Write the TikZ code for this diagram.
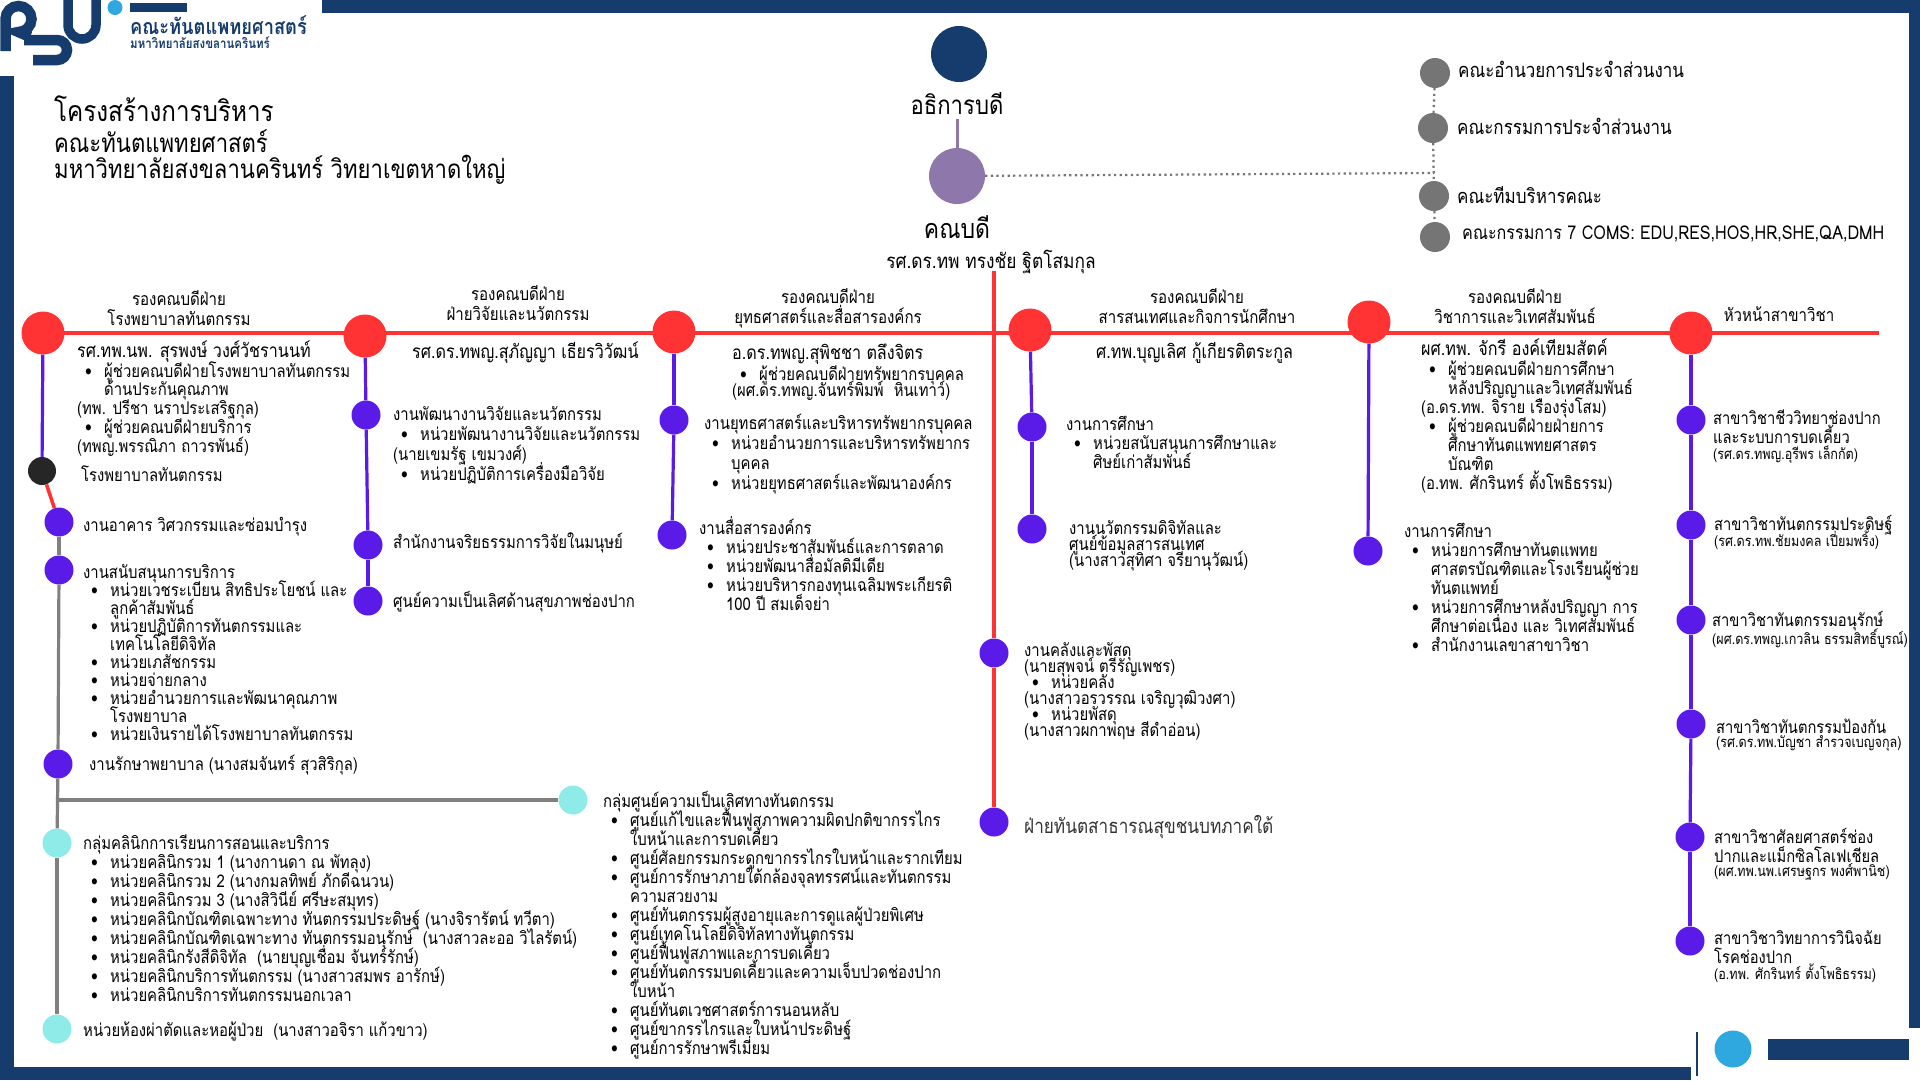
\documentclass[tikz,border=0pt]{standalone}
\usepackage{fontspec}
\setmainfont[Script=Thai,FakeStretch=0.85]{Loma}
\definecolor{psublue}{HTML}{163C6E}
\definecolor{psusky}{HTML}{2FA8E0}
\definecolor{viceRed}{HTML}{FF3333}
\definecolor{unitPurple}{HTML}{5A1AE8}
\definecolor{deanPurple}{HTML}{8E77AA}
\definecolor{boardGray}{HTML}{757575}
\definecolor{clinicCyan}{HTML}{8EEBE8}
\newcommand{\bu}{\makebox[27pt][l]{\hspace{8pt}\textbullet}}
\newcommand{\hi}{\makebox[27pt]{}}
\tikzset{
  bead/.style={circle, inner sep=0pt, minimum size=#1},
  vice/.style={bead=43pt, fill=viceRed},
  unit/.style={bead=29pt, fill=unitPurple},
  board/.style={bead=30pt, fill=boardGray},
  clinic/.style={bead=29pt, fill=clinicCyan},
  txt/.style 2 args={anchor=north west, align=left, inner sep=0pt, yshift={(0.7*#2-0.25*#1)*1pt},
    font=\fontsize{#1}{#2}\selectfont\lineskiplimit-60pt\relax, execute at begin node=\strut},
  head/.style 2 args={txt={#1}{#2}, anchor=north, align=center},
  redline/.style={draw=viceRed, line width=3.5pt},
  purpleline/.style={draw=unitPurple, line width=3.2pt},
  grayline/.style={draw=gray, line width=3.2pt},
  dotline/.style={draw=boardGray, line width=2.2pt, dash pattern=on 2.2pt off 3.4pt}
}
\begin{document}
\begin{tikzpicture}[x=1pt,y=-1pt]
  \useasboundingbox (0,0) rectangle (1920,1080);
  % frame
  \fill[psublue] (322,0) rectangle (1920,13);
  \fill[psublue] (1909,0) rectangle (1920,1028);
  \fill[psublue] (0,76) rectangle (14,1080);
  \fill[psublue] (0,1067) rectangle (1691,1080);
  \fill[psublue] (1768,1039) rectangle (1909,1060);
  \fill[psusky] (1733,1049) circle (18.5);
  \draw[psublue, line width=1.4pt] (1697,1032) -- (1697,1076);
  % logo
  \draw[psublue, line width=10.5pt] (5.5,51) -- (5.5,19) arc (180:450:13) -- (30,37);
  \draw[psublue, line width=10.5pt] (24,40) -- (57,40) arc (-90:90:10) -- (33,60);
  \draw[psublue, line width=9.5pt] (68,0) -- (68,25) arc (180:0:14) -- (96,0);
  \fill[psusky] (115,7.5) circle (7.5);
  \fill[psublue] (130,3) rectangle (187,12);
  \node[txt={21.5}{24}, text=psublue] (logoa) at (130,27) {\bfseries คณะทันตแพทยศาสตร์};
  \node[txt={13.5}{16}, text=psublue] (logob) at (130,44) {\bfseries มหาวิทยาลัยสงขลานครินทร์};
  % title
  \node[txt={28.5}{30}] (titlea) at (54,110) {โครงสร้างการบริหาร};
  \node[txt={26}{26}] (titleb) at (54,141) {คณะทันตแพทยศาสตร์\\มหาวิทยาลัยสงขลานครินทร์ วิทยาเขตหาดใหญ่};
  % top of the chart
  \node[bead=56pt, fill=psublue] (pres) at (959,54) {};
  \node[bead=56pt, fill=deanPurple] (dean) at (957,176) {};
  \node[head={26}{28}] (preslbl) at (957,105) {อธิการบดี};
  \node[head={27}{28}] (deanlbl) at (957,228) {คณบดี};
  \node[head={20.4}{22}] (deanname) at (991,260) {รศ.ดร.ทพ ทรงชัย ฐิตโสมกุล};
  \coordinate (presl) at (957,119);
  \draw[deanPurple, line width=3pt] (presl) -- (dean);
  \node[board] (boa) at (1435,73) {};
  \node[board] (bob) at (1433,128) {};
  \node[board] (boc) at (1434,196) {};
  \node[board] (bod) at (1435,237) {};
  \coordinate (bojoin) at (1434,173);
  \draw[dotline] (dean) -- (bojoin);
  \draw[dotline] (boa) -- (bob);
  \draw[dotline] (bob) -- (boc);
  \draw[dotline] (boc) -- (bod);
  \node[txt={20}{22}] (boalbl) at (1458,71) {คณะอำนวยการประจำส่วนงาน};
  \node[txt={20}{22}] (boblbl) at (1457,128) {คณะกรรมการประจำส่วนงาน};
  \node[txt={20}{22}] (boclbl) at (1457,197) {คณะทีมบริหารคณะ};
  \node[txt={19}{22}] (bodlbl) at (1462,235) {คณะกรรมการ 7 COMS: EDU,RES,HOS,HR,SHE,QA,DMH};
  % red line and the vice deans
  \coordinate (hla) at (64,333);
  \coordinate (hlb) at (1879,333);
  \coordinate (vla) at (994,271);
  \draw[redline] (hla) -- (hlb);
  \node[vice] (rd1) at (43,333) {};
  \node[vice] (rd2) at (365,336) {};
  \node[vice] (rd3) at (674,332) {};
  \node[vice] (rd4) at (1030,330) {};
  \node[vice] (rd5) at (1369,322) {};
  \node[vice] (rd6) at (1691,333) {};
  \node[head={17.7}{20}] (hd1) at (179,300) {รองคณบดีฝ่าย\\โรงพยาบาลทันตกรรม};
  \node[head={17.7}{20}] (hd2) at (518,295) {รองคณบดีฝ่าย\\ฝ่ายวิจัยและนวัตกรรม};
  \node[head={17.7}{20}] (hd3) at (828,298) {รองคณบดีฝ่าย\\ยุทธศาสตร์และสื่อสารองค์กร};
  \node[head={17.7}{20}] (hd4) at (1197,298) {รองคณบดีฝ่าย\\สารสนเทศและกิจการนักศึกษา};
  \node[head={17.7}{20}] (hd5) at (1515,298) {รองคณบดีฝ่าย\\วิชาการและวิเทศสัมพันธ์};
  \node[head={17.7}{20}] (hd6) at (1779,316) {หัวหน้าสาขาวิชา};
  \node[txt={19}{20}] (nm1) at (77,350) {รศ.ทพ.นพ. สุรพงษ์ วงศ์วัชรานนท์};
  \node[txt={19}{20}] (nm2) at (412,351) {รศ.ดร.ทพญ.สุภัญญา เธียรวิวัฒน์};
  \node[txt={19}{20}] (nm3) at (732,353) {อ.ดร.ทพญ.สุพิชชา ตลึงจิตร};
  \node[txt={19}{20}] (nm4) at (1096,351) {ศ.ทพ.บุญเลิศ กู้เกียรติตระกูล};
  \node[txt={19}{20}] (nm5) at (1421,348) {ผศ.ทพ. จักรี องค์เทียมสัตค์};
  % column 1
  \node[txt={17.5}{18.8}] (c1a) at (77,370) {\bu ผู้ช่วยคณบดีฝ่ายโรงพยาบาลทันตกรรม\\\hi ด้านประกันคุณภาพ\\(ทพ. ปรีชา นราประเสริฐกุล)\\\bu ผู้ช่วยคณบดีฝ่ายบริการ\\(ทพญ.พรรณิภา ถาวรพันธ์)};
  \node[bead=28pt, fill=black!85] (hosp) at (42,471) {};
  \node[txt={17.5}{19}] (hosplbl) at (81,474) {โรงพยาบาลทันตกรรม};
  \node[unit] (u1) at (59,522) {};
  \node[txt={17.5}{19}] (u1lbl) at (83,526) {งานอาคาร วิศวกรรมและซ่อมบำรุง};
  \node[unit] (u2) at (59,570) {};
  \node[txt={17.5}{18}] (u2lbl) at (83,572) {งานสนับสนุนการบริการ\\\bu หน่วยเวชระเบียน สิทธิประโยชน์ และ\\\hi ลูกค้าสัมพันธ์\\\bu หน่วยปฏิบัติการทันตกรรมและ\\\hi เทคโนโลยีดิจิทัล\\\bu หน่วยเภสัชกรรม\\\bu หน่วยจ่ายกลาง\\\bu หน่วยอำนวยการและพัฒนาคุณภาพ\\\hi โรงพยาบาล\\\bu หน่วยเงินรายได้โรงพยาบาลทันตกรรม};
  \node[unit] (u3) at (58,764) {};
  \node[txt={17.5}{19}] (u3lbl) at (89,764) {งานรักษาพยาบาล (นางสมจันทร์ สุวสิริกุล)};
  \node[clinic] (cl1) at (573,800) {};
  \node[txt={17.5}{19}] (cl1lbl) at (603,800) {กลุ่มศูนย์ความเป็นเลิศทางทันตกรรม\\\bu ศูนย์แก้ไขและฟื้นฟูสภาพความผิดปกติขากรรไกร\\\hi ใบหน้าและการบดเคี้ยว\\\bu ศูนย์ศัลยกรรมกระดูกขากรรไกรใบหน้าและรากเทียม\\\bu ศูนย์การรักษาภายใต้กล้องจุลทรรศน์และทันตกรรม\\\hi ความสวยงาม\\\bu ศูนย์ทันตกรรมผู้สูงอายุและการดูแลผู้ป่วยพิเศษ\\\bu ศูนย์เทคโนโลยีดิจิทัลทางทันตกรรม\\\bu ศูนย์ฟื้นฟูสภาพและการบดเคี้ยว\\\bu ศูนย์ทันตกรรมบดเคี้ยวและความเจ็บปวดช่องปาก\\\hi ใบหน้า\\\bu ศูนย์ทันตเวชศาสตร์การนอนหลับ\\\bu ศูนย์ขากรรไกรและใบหน้าประดิษฐ์\\\bu ศูนย์การรักษาพรีเมี่ยม};
  \node[clinic] (cl2) at (57,843) {};
  \node[txt={17.5}{19}] (cl2lbl) at (83,843) {กลุ่มคลินิกการเรียนการสอนและบริการ\\\bu หน่วยคลินิกรวม 1 (นางกานดา ณ พัทลุง)\\\bu หน่วยคลินิกรวม 2 (นางกมลทิพย์ ภักดีฉนวน)\\\bu หน่วยคลินิกรวม 3 (นางสิวินีย์ ศรีษะสมุทร)\\\bu หน่วยคลินิกบัณฑิตเฉพาะทาง ทันตกรรมประดิษฐ์ (นางจิรารัตน์ ทวีตา)\\\bu หน่วยคลินิกบัณฑิตเฉพาะทาง ทันตกรรมอนุรักษ์~ (นางสาวละออ วิไลรัตน์)\\\bu หน่วยคลินิกรังสีดิจิทัล~ (นายบุญเชื่อม จันทร์รักษ์)\\\bu หน่วยคลินิกบริการทันตกรรม (นางสาวสมพร อารักษ์)\\\bu หน่วยคลินิกบริการทันตกรรมนอกเวลา};
  \node[clinic] (cl3) at (57,1029) {};
  \node[txt={17.5}{19}] (cl3lbl) at (83,1031) {หน่วยห้องผ่าตัดและหอผู้ป่วย~ (นางสาวอจิรา แก้วขาว)};
  \coordinate (jn) at (58,800);
  \draw[purpleline] (rd1) -- (hosp);
  \draw[redline] (hosp) -- (u1);
  \draw[grayline] (u1) -- (u2);
  \draw[grayline] (u2) -- (u3);
  \draw[grayline] (u3) -- (cl2);
  \draw[grayline] (cl2) -- (cl3);
  \draw[grayline] (jn) -- (cl1);
  % column 2
  \node[unit] (r1) at (366,415) {};
  \node[unit] (r2) at (368,545) {};
  \node[unit] (r3) at (368,601) {};
  \node[txt={17.5}{20}] (r1lbl) at (393,416) {งานพัฒนางานวิจัยและนวัตกรรม\\\bu หน่วยพัฒนางานวิจัยและนวัตกรรม\\(นายเขมรัฐ เขมวงศ์)\\\bu หน่วยปฏิบัติการเครื่องมือวิจัย};
  \node[txt={17.5}{20}] (r2lbl) at (393,542) {สำนักงานจริยธรรมการวิจัยในมนุษย์};
  \node[txt={17.5}{20}] (r3lbl) at (393,601) {ศูนย์ความเป็นเลิศด้านสุขภาพช่องปาก};
  \draw[purpleline] (rd2) -- (r1);
  \draw[purpleline] (r1) -- (r2);
  \draw[purpleline] (r2) -- (r3);
  % column 3
  \node[unit] (s1) at (674,420) {};
  \node[unit] (s2) at (672,535) {};
  \node[txt={17.5}{16.5}] (s0lbl) at (732,372.5) {\bu ผู้ช่วยคณบดีฝ่ายทรัพยากรบุคคล\\(ผศ.ดร.ทพญ.จันทร์พิมพ์~ หินเทาว์)};
  \node[txt={17.5}{20}] (s1lbl) at (704,424) {งานยุทธศาสตร์และบริหารทรัพยากรบุคคล\\\bu หน่วยอำนวยการและบริหารทรัพยากร\\\hi บุคคล\\\bu หน่วยยุทธศาสตร์และพัฒนาองค์กร};
  \node[txt={17.5}{19}] (s2lbl) at (699,525) {งานสื่อสารองค์กร\\\bu หน่วยประชาสัมพันธ์และการตลาด\\\bu หน่วยพัฒนาสื่อมัลติมีเดีย\\\bu หน่วยบริหารกองทุนเฉลิมพระเกียรติ\\\hi 100 ปี สมเด็จย่า};
  \draw[purpleline] (rd3) -- (s1);
  \draw[purpleline] (s1) -- (s2);
  % centre line
  \node[unit] (f1) at (994,653) {};
  \node[unit] (f2) at (994,822) {};
  \node[txt={17.5}{16}] (f1lbl) at (1024,649.5) {งานคลังและพัสดุ\\(นายสุพจน์ ตรีรัญเพชร)\\\bu หน่วยคลัง\\(นางสาวอรวรรณ เจริญวุฒิวงศา)\\\bu หน่วยพัสดุ\\(นางสาวผกาพฤษ สีดำอ่อน)};
  \node[txt={20.2}{22}, text=black!80] (f2lbl) at (1024,825) {ฝ่ายทันตสาธารณสุขชนบทภาคใต้};
  \draw[redline] (vla) -- (f1);
  \draw[redline] (f1) -- (f2);
  % column 4
  \node[unit] (e1) at (1032,427) {};
  \node[unit] (e2) at (1032,529) {};
  \node[txt={17.5}{19}] (e1lbl) at (1066,425) {งานการศึกษา\\\bu หน่วยสนับสนุนการศึกษาและ\\\hi ศิษย์เก่าสัมพันธ์};
  \node[txt={17.5}{16}] (e2lbl) at (1069,527.5) {งานนวัตกรรมดิจิทัลและ\\ศูนย์ข้อมูลสารสนเทศ\\(นางสาวสุทิศา จรียานุวัฒน์)};
  \draw[purpleline] (rd4) -- (e1);
  \draw[purpleline] (e1) -- (e2);
  % column 5
  \node[unit] (a1) at (1368,551) {};
  \node[txt={17.5}{19}] (a0lbl) at (1421,369) {\bu ผู้ช่วยคณบดีฝ่ายการศึกษา\\\hi หลังปริญญาและวิเทศสัมพันธ์\\(อ.ดร.ทพ. จิราย เรืองรุ่งโสม)\\\bu ผู้ช่วยคณบดีฝ่ายฝ่ายการ\\\hi ศึกษาทันตแพทยศาสตร\\\hi บัณฑิต\\(อ.ทพ. ศักรินทร์ ตั้งโพธิธรรม)};
  \node[txt={17.5}{19}] (a1lbl) at (1404,532) {งานการศึกษา\\\bu หน่วยการศึกษาทันตแพทย\\\hi ศาสตรบัณฑิตและโรงเรียนผู้ช่วย\\\hi ทันตแพทย์\\\bu หน่วยการศึกษาหลังปริญญา การ\\\hi ศึกษาต่อเนื่อง และ วิเทศสัมพันธ์\\\bu สำนักงานเลขาสาขาวิชา};
  \draw[purpleline] (rd5) -- (a1);
  % column 6
  \node[unit] (h1) at (1691,420) {};
  \node[unit] (h2) at (1691,525) {};
  \node[unit] (h3) at (1691,620) {};
  \node[unit] (h4) at (1691,724) {};
  \node[unit] (h5) at (1690,837) {};
  \node[unit] (h6) at (1690,941) {};
  \node[txt={17.3}{19}] (h1lbl) at (1713,419) {สาขาวิชาชีววิทยาช่องปาก\\และระบบการบดเคี้ยว};
  \node[txt={14.8}{14}] (h1nm) at (1713,451.5) {(รศ.ดร.ทพญ.อุรีพร เล็กกัต)};
  \node[txt={17.3}{19}] (h2lbl) at (1714,524) {สาขาวิชาทันตกรรมประดิษฐ์};
  \node[txt={14.8}{14}] (h2nm) at (1714,536.5) {(รศ.ดร.ทพ.ชัยมงคล เปี่ยมพริ้ง)};
  \node[txt={17.3}{19}] (h3lbl) at (1712,620) {สาขาวิชาทันตกรรมอนุรักษ์};
  \node[txt={14.8}{14}] (h3nm) at (1712,634.5) {(ผศ.ดร.ทพญ.เกวลิน ธรรมสิทธิ์บูรณ์)};
  \node[txt={17.3}{19}] (h4lbl) at (1716,728) {สาขาวิชาทันตกรรมป้องกัน};
  \node[txt={14.8}{14}] (h4nm) at (1716,741.5) {(รศ.ดร.ทพ.บัญชา สำรวจเบญจกุล)};
  \node[txt={17.3}{19}] (h5lbl) at (1714,837) {สาขาวิชาศัลยศาสตร์ช่อง\\ปากและแม็กซิลโลเฟเชียล};
  \node[txt={14.8}{14}] (h5nm) at (1714,869.5) {(ผศ.ทพ.นพ.เศรษฐกร พงศ์พานิช)};
  \node[txt={17.3}{19}] (h6lbl) at (1714,939) {สาขาวิชาวิทยาการวินิจฉัย\\โรคช่องปาก};
  \node[txt={14.8}{14}] (h6nm) at (1714,970) {(อ.ทพ. ศักรินทร์ ตั้งโพธิธรรม)};
  \draw[purpleline] (rd6) -- (h1);
  \draw[purpleline] (h1) -- (h2);
  \draw[purpleline] (h2) -- (h3);
  \draw[purpleline] (h3) -- (h4);
  \draw[purpleline] (h4) -- (h5);
  \draw[purpleline] (h5) -- (h6);
\end{tikzpicture}
\end{document}
